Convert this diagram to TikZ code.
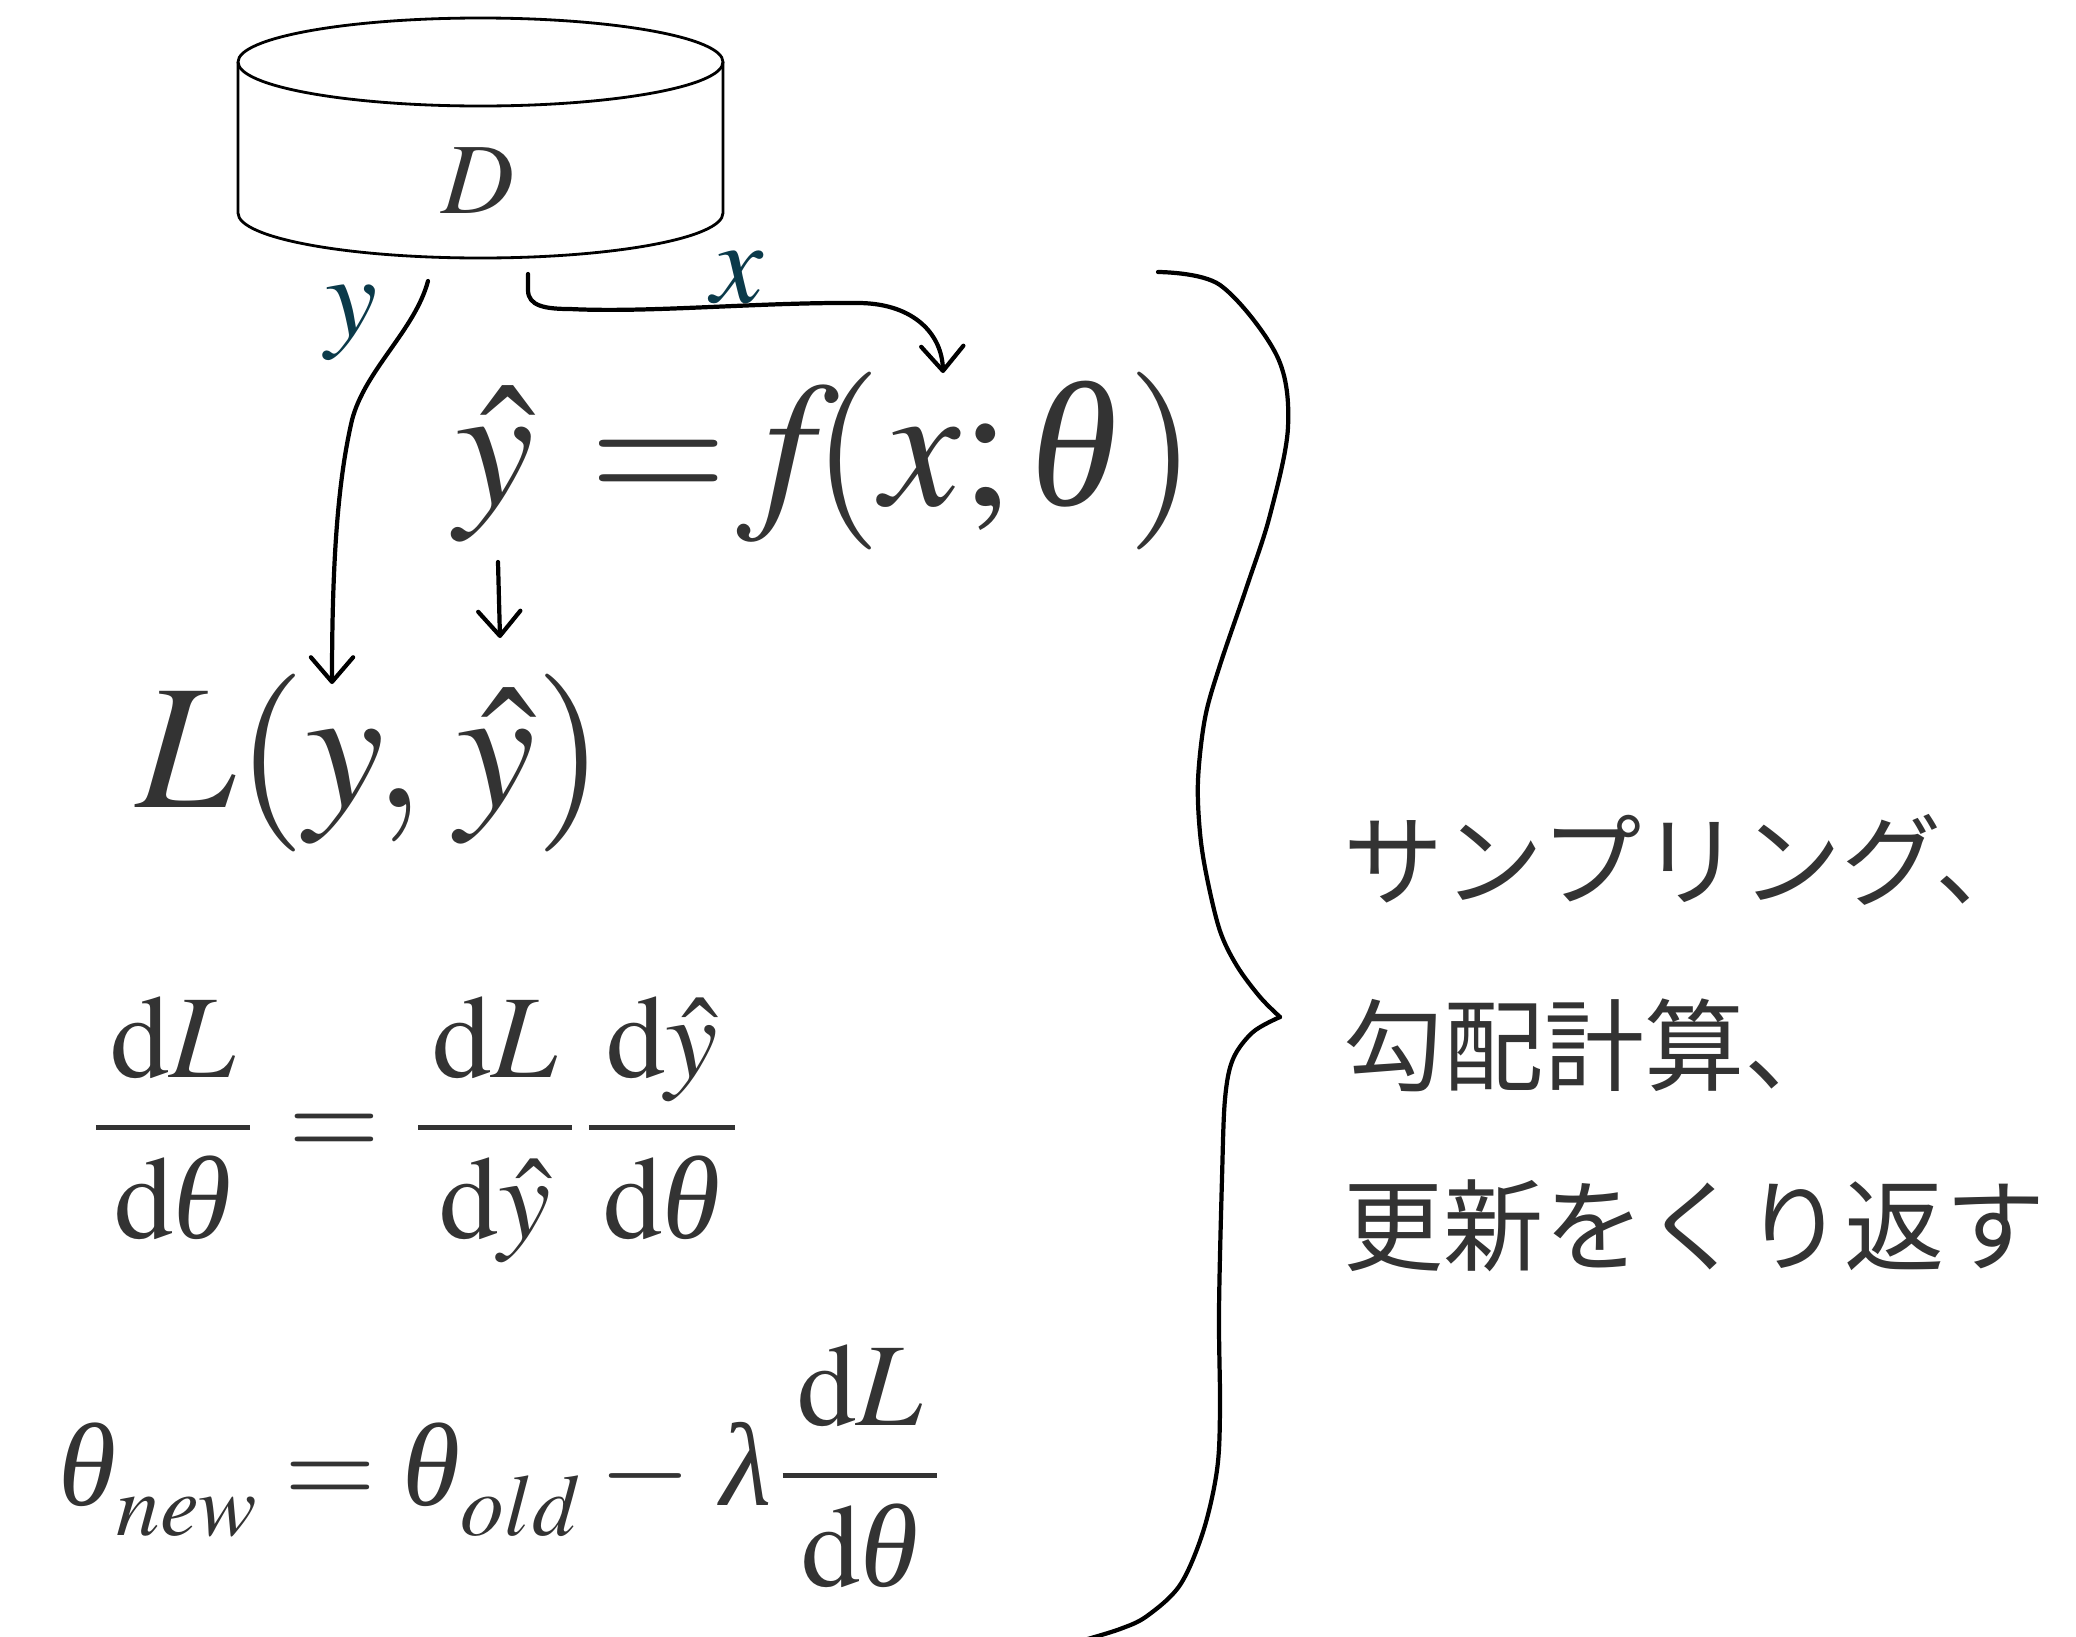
\documentclass[tikz,border=0pt]{standalone}
\usepackage{mathptmx}
\usepackage[no-math]{fontspec}
\newfontfamily\jpfont{Noto Sans CJK JP}
\newfontfamily\libserif{Liberation Serif}
\usetikzlibrary{arrows.meta}
\definecolor{ink}{HTML}{333333}
\definecolor{labelteal}{HTML}{0B3A4A}
\newcommand{\dfr}[2]{\frac{\mkern2.2mu#1\mkern2.2mu}{\mkern2.2mu#2\mkern2.2mu}}
\newcommand{\lowsub}[1]{\raisebox{-3.5pt}{$\scriptstyle #1$}}
\newcommand{\vth}{\mathord{\mbox{\libserif\itshape θ}}}
\newcommand{\vlam}{\mathord{\mbox{\libserif\itshape λ}}}

\begin{document}
\begin{tikzpicture}[
    x=0.01cm, y=-0.01cm,
    every node/.style={inner sep=0pt, text=ink},
    bigmath/.style={font=\fontsize{50.6}{60}\selectfont},
    midmath/.style={font=\fontsize{33.6}{40}\selectfont},
    varlabel/.style={font=\fontsize{33.3}{40}\selectfont, text=labelteal},
    jptext/.style={font=\fontsize{28.5}{34}\selectfont\jpfont},
    flow/.style={-{Straight Barb[length=7pt,width=12pt,round]}, line width=1.2pt, line cap=round},
    brace/.style={line width=1.2pt, line cap=round, line join=round}
]
\useasboundingbox (0,0) rectangle (2076,1636);

% data set
\draw[line width=0.8pt] (238,62) -- (238,213) arc[start angle=180, end angle=0, x radius=242.5, y radius=45] -- (723,62);
\draw[line width=0.8pt] (480.5,62) ellipse[x radius=242.5, y radius=44];
\node[font=\fontsize{28.7}{34}\selectfont, anchor=base] (dataset) at (478,213) {$D$};

% formulas
\node[varlabel, anchor=base] (ylabel) at (351,336) {$y$};
\node[varlabel, anchor=base] (xlabel) at (738,302) {$x$};
\node[bigmath, anchor=base west] (model) at (455,505) {$\hat{y} \mkern1.5mu=\mkern-3mu f\mkern-2.7mu(x;\vth\mkern1mu)$};
\node[bigmath, anchor=base west] (loss) at (136,807) {$L(y,\mkern1.3mu\hat{y})$};
\node[midmath, anchor=base west] (chain) at (91,1157) {$\displaystyle \dfr{\mathrm{d}L}{\mathrm{d}\vth} \mkern1.2mu=\mkern1.2mu \dfr{\mathrm{d}L}{\mathrm{d}\hat{y}}\mkern1.2mu\dfr{\mathrm{d}\hat{y}}{\mathrm{d}\vth}$};
\node[midmath, anchor=base west] (update) at (58,1505) {$\displaystyle \vth_{\lowsub{new}} = \vth_{\lowsub{old}} - \mkern2mu\vlam\mkern1mu\dfr{\mathrm{d}L}{\mathrm{d}\vth}$};

% steps
\node[jptext, anchor=base west] (step1) at (1343,898) {サンプリング、};
\node[jptext, anchor=base west] (step2) at (1343,1083) {勾配計算、};
\node[jptext, anchor=base west] (step3) at (1343,1263) {更新をくり返す};

% arrows
\coordinate (yout) at (428,281);
\coordinate (yin) at (332,684);
\coordinate (xout) at (528,274);
\coordinate (xin) at (943,373);
\coordinate (yhatout) at (498,562);
\coordinate (yhatin) at (500,638);
\draw[flow] (yout) .. controls (415,330) and (365,370) .. (352,420) .. controls (338,480) and (332,560) .. (yin);
\draw[flow] (xout) -- (528,290) .. controls (528,306) and (545,309) .. (570,309) .. controls (650,313) and (760,302) .. (860,303) .. controls (915,304) and (942,335) .. (xin);
\draw[flow] (yhatout) -- (yhatin);

% brace
\draw[brace] plot[smooth, tension=0.55] coordinates {(1158,272) (1220,285) (1277,356) (1288,427) (1270,515) (1247,586) (1220,665) (1205,718) (1198,780) (1200,833) (1207,878) (1220,931) (1237,966) (1260,997) (1280,1017)};
\draw[brace] plot[smooth, tension=0.55] coordinates {(1280,1017) (1253,1032) (1233,1059) (1225,1099) (1222,1178) (1219,1311) (1220,1408) (1217,1470) (1203,1532) (1180,1585) (1147,1616) (1120,1629) (1084,1640)};
\end{tikzpicture}
\end{document}
